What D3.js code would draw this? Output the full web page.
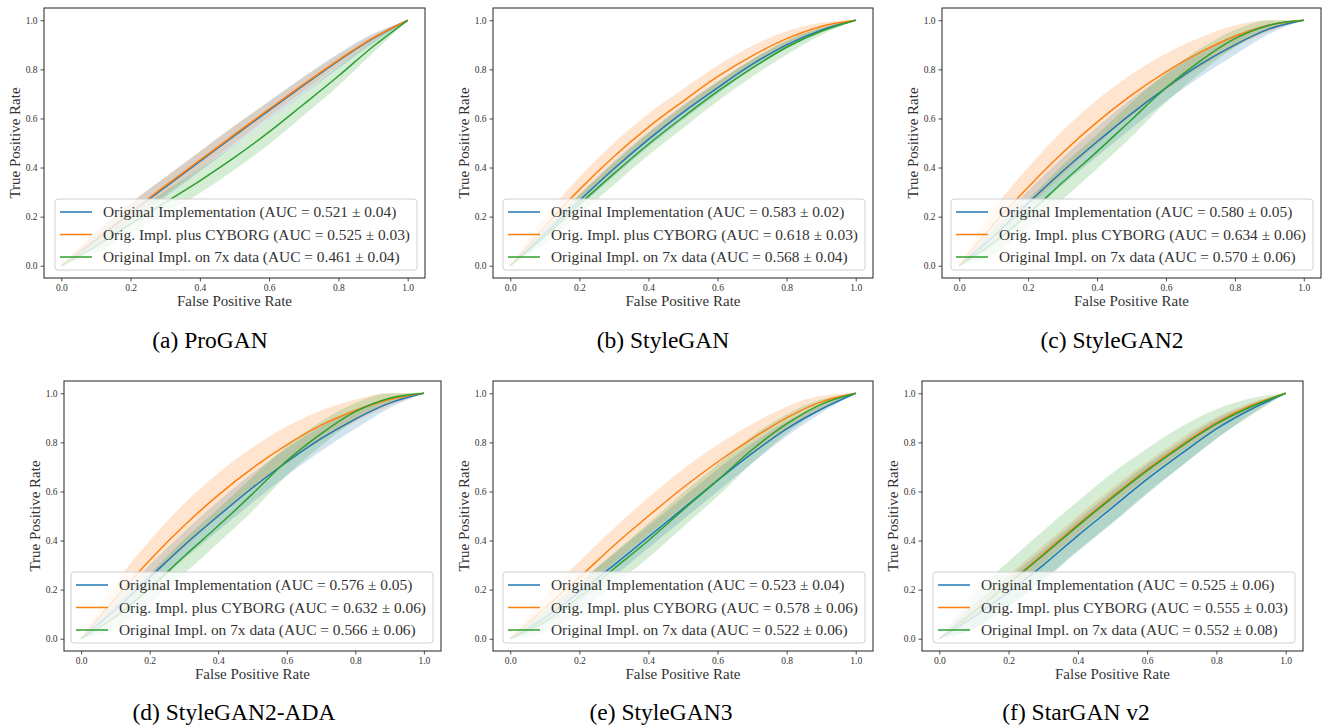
<!DOCTYPE html>
<html>
<head>
<meta charset="utf-8">
<script src="https://cdn.jsdelivr.net/npm/d3@7"></script>
<style>
  body { margin: 0; background: #fff; }
  svg { display: block; }
  text { font-family: "Liberation Serif", "Times New Roman", serif; }
</style>
</head>
<body>
<svg id="fig"></svg>
<script>
// ROC sample points (false positive rate)
const fpr = [0, 0.1, 0.2, 0.3, 0.4, 0.5, 0.6, 0.7, 0.8, 0.9, 1.0];

const seriesNames = ["Original Implementation", "Orig. Impl. plus CYBORG", "Original Impl. on 7x data"];
const seriesColors = ["#1f77b4", "#ff7f0e", "#2ca02c"];

const panelTitles = ["(a) ProGAN", "(b) StyleGAN", "(c) StyleGAN2", "(d) StyleGAN2-ADA", "(e) StyleGAN3", "(f) StarGAN v2"];

// AUC mean / std per panel, per series (blue, orange, green)
const aucMean = [
  [0.521, 0.525, 0.461],
  [0.583, 0.618, 0.568],
  [0.580, 0.634, 0.570],
  [0.576, 0.632, 0.566],
  [0.523, 0.578, 0.522],
  [0.525, 0.555, 0.552]
];
const aucStd = [
  [0.04, 0.03, 0.04],
  [0.02, 0.03, 0.04],
  [0.05, 0.06, 0.06],
  [0.05, 0.06, 0.06],
  [0.04, 0.06, 0.06],
  [0.06, 0.03, 0.08]
];

// mean TPR curves
const proganTpr = [
  [0, 0.105, 0.215, 0.320, 0.425, 0.530, 0.633, 0.736, 0.835, 0.926, 1],
  [0, 0.110, 0.220, 0.325, 0.430, 0.535, 0.638, 0.740, 0.838, 0.928, 1],
  [0, 0.080, 0.170, 0.258, 0.346, 0.441, 0.545, 0.658, 0.773, 0.893, 1]
];
const proganBand = [
  [0, 0.03, 0.04, 0.040, 0.040, 0.040, 0.038, 0.035, 0.030, 0.020, 0],
  [0, 0.03, 0.035, 0.035, 0.035, 0.035, 0.030, 0.028, 0.022, 0.012, 0],
  [0, 0.03, 0.04, 0.045, 0.050, 0.050, 0.050, 0.045, 0.040, 0.025, 0]
];

const styleganTpr = [
  [0, 0.130, 0.265, 0.395, 0.515, 0.625, 0.725, 0.820, 0.900, 0.960, 1],
  [0, 0.160, 0.310, 0.445, 0.565, 0.670, 0.770, 0.855, 0.925, 0.975, 1],
  [0, 0.120, 0.250, 0.375, 0.495, 0.605, 0.710, 0.805, 0.890, 0.955, 1]
];
const styleganBand = [
  [0, 0.020, 0.025, 0.030, 0.030, 0.030, 0.025, 0.020, 0.015, 0.010, 0],
  [0, 0.040, 0.050, 0.055, 0.055, 0.050, 0.045, 0.040, 0.030, 0.015, 0],
  [0, 0.030, 0.040, 0.045, 0.045, 0.045, 0.040, 0.035, 0.030, 0.015, 0]
];

const stylegan2Tpr = [
  [0, 0.120, 0.255, 0.385, 0.505, 0.620, 0.725, 0.820, 0.900, 0.965, 1],
  [0, 0.170, 0.320, 0.460, 0.585, 0.695, 0.790, 0.870, 0.935, 0.980, 1],
  [0, 0.095, 0.210, 0.340, 0.465, 0.595, 0.725, 0.835, 0.925, 0.980, 1]
];
const stylegan2Band = [
  [0, 0.040, 0.050, 0.055, 0.060, 0.060, 0.055, 0.050, 0.040, 0.020, 0],
  [0, 0.060, 0.080, 0.090, 0.090, 0.085, 0.075, 0.060, 0.045, 0.025, 0],
  [0, 0.050, 0.060, 0.070, 0.070, 0.070, 0.060, 0.050, 0.035, 0.020, 0]
];

const stylegan2adaTpr = [
  [0, 0.120, 0.250, 0.380, 0.500, 0.615, 0.720, 0.815, 0.895, 0.960, 1],
  [0, 0.165, 0.320, 0.460, 0.585, 0.695, 0.790, 0.870, 0.930, 0.975, 1],
  [0, 0.090, 0.205, 0.335, 0.460, 0.590, 0.725, 0.835, 0.925, 0.980, 1]
];
const stylegan2adaBand = [
  [0, 0.040, 0.050, 0.055, 0.060, 0.060, 0.055, 0.050, 0.040, 0.020, 0],
  [0, 0.060, 0.080, 0.090, 0.090, 0.085, 0.075, 0.060, 0.045, 0.025, 0],
  [0, 0.050, 0.060, 0.070, 0.070, 0.070, 0.060, 0.050, 0.035, 0.020, 0]
];

const stylegan3Tpr = [
  [0, 0.085, 0.190, 0.300, 0.415, 0.530, 0.645, 0.755, 0.855, 0.935, 1],
  [0, 0.125, 0.250, 0.380, 0.500, 0.615, 0.720, 0.815, 0.900, 0.965, 1],
  [0, 0.070, 0.170, 0.285, 0.400, 0.525, 0.645, 0.770, 0.875, 0.955, 1]
];
const stylegan3Band = [
  [0, 0.030, 0.040, 0.045, 0.045, 0.045, 0.045, 0.040, 0.030, 0.015, 0],
  [0, 0.050, 0.065, 0.070, 0.075, 0.075, 0.070, 0.060, 0.045, 0.025, 0],
  [0, 0.045, 0.060, 0.065, 0.070, 0.070, 0.065, 0.055, 0.040, 0.020, 0]
];

const starganTpr = [
  [0, 0.090, 0.190, 0.300, 0.420, 0.535, 0.650, 0.755, 0.855, 0.935, 1],
  [0, 0.110, 0.225, 0.345, 0.465, 0.580, 0.690, 0.790, 0.880, 0.950, 1],
  [0, 0.110, 0.225, 0.340, 0.460, 0.575, 0.685, 0.785, 0.875, 0.945, 1]
];
const starganBand = [
  [0, 0.050, 0.060, 0.065, 0.065, 0.065, 0.060, 0.050, 0.040, 0.020, 0],
  [0, 0.030, 0.035, 0.035, 0.035, 0.035, 0.030, 0.028, 0.022, 0.012, 0],
  [0, 0.070, 0.090, 0.100, 0.100, 0.100, 0.090, 0.080, 0.060, 0.035, 0]
];

const panelTpr = [proganTpr, styleganTpr, stylegan2Tpr, stylegan2adaTpr, stylegan3Tpr, starganTpr];
const panelBand = [proganBand, styleganBand, stylegan2Band, stylegan2adaBand, stylegan3Band, starganBand];

const xTicks = [0, 0.2, 0.4, 0.6, 0.8, 1.0];
const yTicks = [0, 0.2, 0.4, 0.6, 0.8, 1.0];

// page layout (frame boxes of each subplot, caption centres)
const width = 1322, height = 727;
const frames = [
  { l: 44, t: 8, r: 425, b: 278, cx: 210, cy: 340 },
  { l: 493, t: 8, r: 873, b: 278, cx: 663, cy: 340 },
  { l: 942, t: 8, r: 1321, b: 278, cx: 1112, cy: 340 },
  { l: 64, t: 381, r: 441, b: 651, cx: 234, cy: 712 },
  { l: 493, t: 381, r: 873, b: 651, cx: 661, cy: 712 },
  { l: 922, t: 381, r: 1303, b: 651, cx: 1076, cy: 712 }
];

const svg = d3.select("#fig").attr("width", width).attr("height", height);

const fmt = d3.format(".3f");
const fmtStd = d3.format(".2f");

frames.forEach((f, p) => {
  const x = d3.scaleLinear().domain([-0.05, 1.05]).range([f.l, f.r]);
  const y = d3.scaleLinear().domain([-0.05, 1.05]).range([f.b, f.t]);
  const g = svg.append("g");

  // confidence bands
  panelTpr[p].forEach((tpr, s) => {
    const hw = panelBand[p][s];
    const area = d3.area()
      .x((d, i) => x(fpr[i]))
      .y0((d, i) => y(Math.max(0, tpr[i] - hw[i])))
      .y1((d, i) => y(Math.min(1, tpr[i] + hw[i])))
      .curve(d3.curveMonotoneX);
    g.append("path")
      .attr("d", area(tpr))
      .attr("fill", seriesColors[s])
      .attr("fill-opacity", 0.2);
  });

  // mean ROC lines
  panelTpr[p].forEach((tpr, s) => {
    const line = d3.line()
      .x((d, i) => x(fpr[i]))
      .y(d => y(d))
      .curve(d3.curveMonotoneX);
    g.append("path")
      .attr("d", line(tpr))
      .attr("fill", "none")
      .attr("stroke", seriesColors[s])
      .attr("stroke-width", 1.5);
  });

  // axes
  const xAxis = g.append("g").attr("transform", `translate(0,${f.b})`)
    .call(d3.axisBottom(x).tickValues(xTicks).tickFormat(d3.format(".1f")).tickSize(3.5).tickPadding(3));
  const yAxis = g.append("g").attr("transform", `translate(${f.l},0)`)
    .call(d3.axisLeft(y).tickValues(yTicks).tickFormat(d3.format(".1f")).tickSize(3.5).tickPadding(3));
  [xAxis, yAxis].forEach(a => {
    a.select(".domain").remove();
    a.selectAll(".tick line").attr("stroke", "#222").attr("stroke-width", 0.8);
    a.selectAll(".tick text").attr("fill", "#333")
      .style("font-family", "'Liberation Serif', serif").style("font-size", "9.5px");
  });

  // frame
  g.append("rect")
    .attr("x", f.l).attr("y", f.t)
    .attr("width", f.r - f.l).attr("height", f.b - f.t)
    .attr("fill", "none").attr("stroke", "#222").attr("stroke-width", 1);

  // axis labels
  g.append("text")
    .attr("x", (f.l + f.r) / 2).attr("y", f.b + 28)
    .attr("text-anchor", "middle")
    .style("font-size", "15px").attr("fill", "#333")
    .text("False Positive Rate");
  g.append("text")
    .attr("transform", `translate(${f.l - 29},${(f.t + f.b) / 2}) rotate(-90)`)
    .attr("text-anchor", "middle")
    .attr("dy", "0.35em")
    .style("font-size", "15px").attr("fill", "#333")
    .text("True Positive Rate");

  // legend (lower right)
  const leg = g.append("g");
  const box = leg.append("rect")
    .attr("rx", 3).attr("ry", 3)
    .attr("fill", "#fff").attr("fill-opacity", 0.8)
    .attr("stroke", "#d0d0d0").attr("stroke-width", 1);
  const rows = seriesNames.map((name, s) => {
    const row = leg.append("g");
    row.append("line")
      .attr("x1", 5).attr("x2", 37)
      .attr("stroke", seriesColors[s]).attr("stroke-width", 1.5);
    row.append("text")
      .attr("x", 48).attr("dy", "0.35em")
      .style("font-size", "15.4px").attr("fill", "#333")
      .text(`${name} (AUC = ${fmt(aucMean[p][s])} \u00b1 ${fmtStd(aucStd[p][s])})`);
    return row;
  });
  const maxW = d3.max(leg.selectAll("text").nodes(), n => n.getComputedTextLength());
  const legW = 48 + maxW + 7;
  const legH = 71;
  const lx = f.r - 8 - legW, ly = f.b - 8 - legH;
  box.attr("x", lx).attr("y", ly).attr("width", legW).attr("height", legH);
  rows.forEach((row, s) => row.attr("transform", `translate(${lx},${ly + 13 + s * 22.5})`));

  // caption
  svg.append("text")
    .attr("x", f.cx).attr("y", f.cy)
    .attr("text-anchor", "middle").attr("dy", "0.35em")
    .style("font-size", "23.5px").attr("fill", "#000")
    .text(panelTitles[p]);
});
</script>
</body>
</html>
